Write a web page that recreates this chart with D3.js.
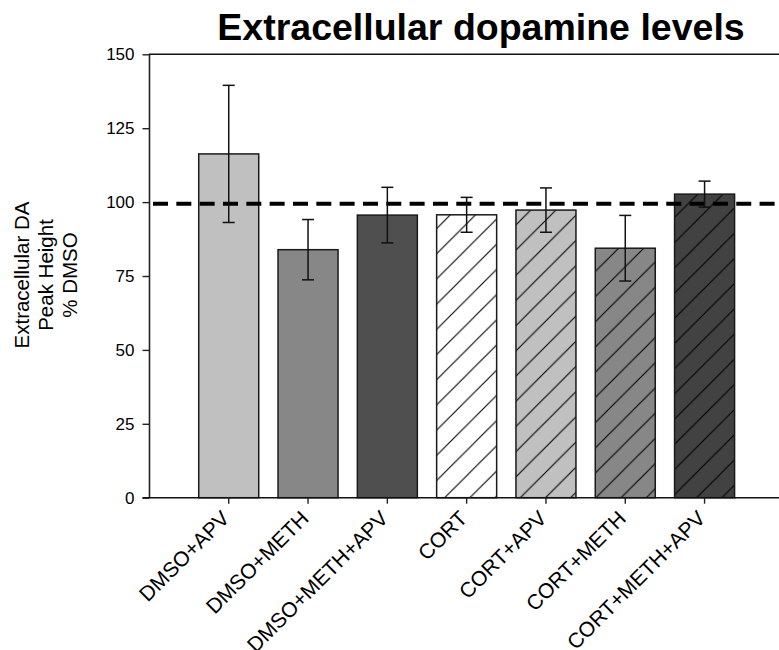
<!DOCTYPE html>
<html>
<head>
<meta charset="utf-8">
<script src="https://cdn.jsdelivr.net/npm/d3@7"></script>
<style>
  html, body { margin: 0; padding: 0; background: #fff; }
  svg { display: block; font-family: "Liberation Sans", Arial, sans-serif; }
</style>
</head>
<body>
<svg id="chart" width="779" height="650"></svg>
<script>
// ---- data ----
const categories = ["DMSO+APV", "DMSO+METH", "DMSO+METH+APV", "CORT", "CORT+APV", "CORT+METH", "CORT+METH+APV"];
const means = [116.3, 83.9, 95.6, 95.7, 97.3, 84.4, 102.7];
const sems = [23.2, 10.2, 9.4, 5.9, 7.5, 11.1, 4.4];
const yTicks = [0, 25, 50, 75, 100, 125, 150];
const referenceLevel = 99.4;
const titleText = "Extracellular dopamine levels";
const yLabelLines = ["Extracellular DA", "Peak Height", "% DMSO"];

// ---- styles ----
const barFills = ["#c0c0c0", "#878787", "#4f4f4f", "#ffffff", "#c0c0c0", "#878787", "#424242"];

const svg = d3.select("#chart");
const plot = { left: 149, right: 784.3, top: 54.3, bottom: 497.7 };

const x = d3.scaleBand()
  .domain(categories)
  .range([plot.left, plot.right])
  .paddingInner(0.2434)
  .paddingOuter(0.627);

const y = d3.scaleLinear().domain([0, 150]).range([plot.bottom, plot.top]);

// hatch patterns
const defs = svg.append("defs");
const hs = 25.2;
categories.forEach((c, i) => {
  if (!c.startsWith("CORT")) return;
  const p = defs.append("pattern")
    .attr("id", "hatch" + i)
    .attr("patternUnits", "userSpaceOnUse")
    .attr("width", hs).attr("height", hs)
    .attr("x", 10).attr("y", 0);
  p.append("rect").attr("width", hs).attr("height", hs).attr("fill", barFills[i]);
  p.append("path")
    .attr("d", `M0,${hs} L${hs},0 M${-3},3 L3,${-3} M${hs - 3},${hs + 3} L${hs + 3},${hs - 3}`)
    .attr("stroke", "#000").attr("stroke-width", 1.1);
});

// frame top line (extends beyond the visible area)
svg.append("line")
  .attr("x1", plot.left).attr("x2", plot.right)
  .attr("y1", y(150)).attr("y2", y(150))
  .attr("stroke", "#111").attr("stroke-width", 1.6);

// bars
svg.append("g").selectAll("rect")
  .data(categories)
  .join("rect")
  .attr("x", d => x(d))
  .attr("width", x.bandwidth())
  .attr("y", (d, i) => y(means[i]))
  .attr("height", (d, i) => y(0) - y(means[i]))
  .attr("fill", (d, i) => d.startsWith("CORT") ? `url(#hatch${i})` : barFills[i])
  .attr("stroke", "#1a1a1a")
  .attr("stroke-width", 1.5);

// reference dashed line
svg.append("line")
  .attr("x1", plot.left).attr("x2", 779)
  .attr("y1", y(referenceLevel)).attr("y2", y(referenceLevel))
  .attr("stroke", "#000").attr("stroke-width", 4)
  .attr("stroke-dasharray", "15,8.33")
  .attr("stroke-dashoffset", -4);

// error bars
const eb = svg.append("g").attr("stroke", "#111").attr("stroke-width", 1.5);
categories.forEach((c, i) => {
  const cx = x(c) + x.bandwidth() / 2;
  const hi = y(means[i] + sems[i]);
  const lo = y(means[i] - sems[i]);
  eb.append("line").attr("x1", cx).attr("x2", cx).attr("y1", hi).attr("y2", lo);
  eb.append("line").attr("x1", cx - 6).attr("x2", cx + 6).attr("y1", hi).attr("y2", hi);
  eb.append("line").attr("x1", cx - 6).attr("x2", cx + 6).attr("y1", lo).attr("y2", lo);
});

// y axis
const yAxis = svg.append("g")
  .attr("transform", `translate(${plot.left},0)`)
  .call(d3.axisLeft(y).tickValues(yTicks).tickSize(6.5).tickPadding(8).tickSizeOuter(0));
yAxis.select(".domain").attr("stroke", "#222").attr("stroke-width", 1.6);
yAxis.selectAll(".tick line").attr("stroke", "#222").attr("stroke-width", 1.4);
yAxis.selectAll(".tick text")
  .attr("font-size", 17).attr("fill", "#000")
  .attr("font-family", "'Liberation Sans', Arial, sans-serif");

// x axis
const xAxis = svg.append("g")
  .attr("transform", `translate(0,${plot.bottom})`)
  .call(d3.axisBottom(x).tickSize(6).tickSizeOuter(0).tickFormat(""));
xAxis.select(".domain").attr("stroke", "#111").attr("stroke-width", 1.6)
  .attr("d", `M${plot.left - 6.5},0H${plot.right}`);
xAxis.selectAll(".tick line").attr("stroke", "#222").attr("stroke-width", 1.4);

// rotated category labels
svg.append("g").selectAll("text")
  .data(categories)
  .join("text")
  .attr("transform", d => `translate(${x(d) + x.bandwidth() / 2 + 2},${plot.bottom + 22}) rotate(-45)`)
  .attr("text-anchor", "end")
  .attr("font-size", 21)
  .attr("fill", "#000")
  .text(d => d);

// y axis label
const yl = svg.append("g").attr("transform", "translate(0,275)");
yLabelLines.forEach((t, i) => {
  yl.append("text")
    .attr("transform", `translate(${29 + i * 24},0) rotate(-90)`)
    .attr("text-anchor", "middle")
    .attr("font-size", 20.5)
    .attr("fill", "#000")
    .text(t);
});

// title
svg.append("text")
  .attr("x", 481).attr("y", 40)
  .attr("text-anchor", "middle")
  .attr("font-size", 37.5)
  .attr("font-weight", "bold")
  .attr("fill", "#000")
  .text(titleText);
</script>
</body>
</html>
